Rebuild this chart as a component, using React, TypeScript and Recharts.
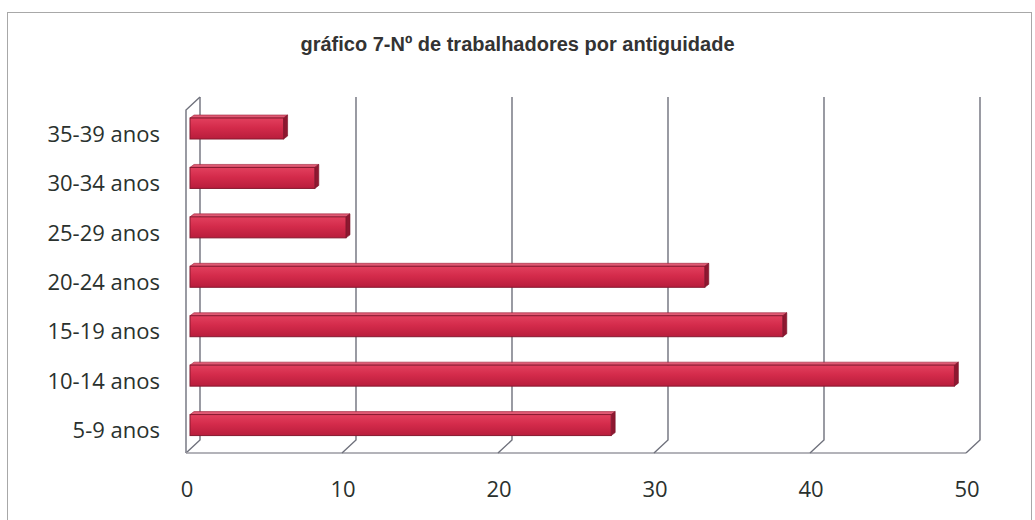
import { BarChart, Bar, XAxis, YAxis, CartesianGrid } from "recharts";

// categories top-to-bottom, as drawn
const categories = ["35-39 anos", "30-34 anos", "25-29 anos", "20-24 anos", "15-19 anos", "10-14 anos", "5-9 anos"];
const workers = [6, 8, 10, 33, 38, 49, 27];
const xTicks = [0, 10, 20, 30, 40, 50];

const data = categories.map((label, i) => ({ label, value: workers[i] }));

const LABEL_FONT = "'Open Sans', 'DejaVu Sans', sans-serif";

// 3D-ish bar: front face + top strip + right side
const Bar3D = (props: any) => {
  const { x, y, width, height } = props;
  if (!width || width <= 0) return null;
  const d = 4;
  return (
    <g>
      <polygon
        points={`${x},${y + 3} ${x + d},${y} ${x + width + d},${y} ${x + width},${y + 3}`}
        fill="#e05a74"
        stroke="#9c2038"
        strokeWidth={0.6}
      />
      <polygon
        points={`${x + width},${y + 3} ${x + width + d},${y} ${x + width + d},${y + height - 3} ${x + width},${y + height}`}
        fill="#8e1730"
        stroke="#7a1429"
        strokeWidth={0.6}
      />
      <rect x={x} y={y + 3} width={width} height={height - 3} fill="url(#barFront)" stroke="#86182f" strokeWidth={1} />
    </g>
  );
};

// back-wall gridlines with a slanted foot, plus left wall and floor on the first line
const GridLine = (props: any) => {
  const { x1, index, x, width } = props;
  const back = 10;
  const front = -4;
  const top = 97;
  const backBottom = 440;
  const floor = 453;
  const stroke = "#6f717c";
  const line = (
    <polyline
      key={`g-${index}`}
      points={`${x1 + back},${top} ${x1 + back},${backBottom} ${x1 + front},${floor}`}
      fill="none"
      stroke={stroke}
      strokeWidth={1.4}
    />
  );
  if (index !== 0) return line;
  return (
    <g key={`g-${index}`}>
      {line}
      <polyline
        points={`${x1 + back},${top} ${x1 + front},${top + 13} ${x1 + front},${floor}`}
        fill="none"
        stroke={stroke}
        strokeWidth={1.4}
      />
      <line x1={x + front} y1={floor} x2={x + width + front} y2={floor} stroke="#9a9aa2" strokeWidth={1.4} />
    </g>
  );
};

const XTick = (props: any) => {
  const { x, y, payload } = props;
  return (
    <text x={x - 3} y={y + 49} textAnchor="middle" fontSize={22} fontFamily={LABEL_FONT} fill="#2a312e">
      {payload.value}
    </text>
  );
};

const YTick = (props: any) => {
  const { x, y, payload } = props;
  return (
    <text x={x} y={y + 15} textAnchor="end" fontSize={22} fontFamily={LABEL_FONT} fill="#2a312e">
      {payload.value}
    </text>
  );
};

export default function App() {
  return (
    <div style={{ position: "absolute", left: 0, top: 0, width: 1035, height: 520, background: "#fff", overflow: "hidden" }}>
      <div
        style={{
          position: "absolute",
          left: 7,
          top: 12,
          width: 1025,
          height: 520,
          border: "1px solid #a8a8a8",
          boxSizing: "border-box",
        }}
      />
      <div
        style={{
          position: "absolute",
          left: 0,
          top: 33,
          width: 1035,
          textAlign: "center",
          fontFamily: "'Liberation Sans', Arial, sans-serif",
          fontWeight: "bold",
          fontSize: 20,
          color: "#333",
        }}
      >
        gráfico 7-Nº de trabalhadores por antiguidade
      </div>
      <div style={{ position: "absolute", left: 0, top: 0 }}>
        <BarChart
          width={1035}
          height={520}
          data={data}
          layout="vertical"
          margin={{ top: 102, right: 65, bottom: 0, left: 0 }}
          barSize={24}
        >
          <defs>
            <linearGradient id="barFront" x1="0" y1="0" x2="0" y2="1">
              <stop offset="0%" stopColor="#e2405e" />
              <stop offset="45%" stopColor="#d42b4b" />
              <stop offset="100%" stopColor="#b81d3c" />
            </linearGradient>
          </defs>
          <CartesianGrid horizontal={false} vertical={GridLine} />
          <XAxis
            type="number"
            domain={[0, 50]}
            ticks={xTicks}
            height={72}
            axisLine={false}
            tickLine={false}
            tickSize={0}
            tickMargin={0}
            tick={XTick}
            interval={0}
          />
          <YAxis
            type="category"
            dataKey="label"
            width={190}
            axisLine={false}
            tickLine={false}
            tickSize={0}
            tickMargin={30}
            tick={YTick}
            interval={0}
          />
          <Bar dataKey="value" shape={Bar3D} isAnimationActive={false} />
        </BarChart>
      </div>
    </div>
  );
}
